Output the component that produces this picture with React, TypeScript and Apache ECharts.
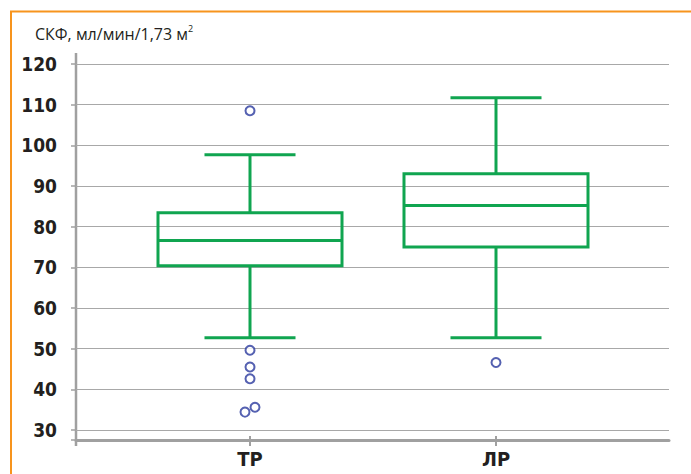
import React, { useEffect, useRef } from "react";
import * as echarts from "echarts";

const categories = ["ТР", "ЛР"];
// [lower whisker, Q1, median, Q3, upper whisker]
const boxTR = [52.7, 70.4, 76.6, 83.4, 97.7];
const boxLR = [52.7, 75.0, 85.2, 93.0, 111.7];
const outliersTR = [108.5, 49.6, 45.5, 42.6, 35.6, 34.4];
const outliersLR = [46.6];
const yMin = 30;
const yMax = 120;
const yStep = 10;
const titleMain = "СКФ, мл/мин/1,73 м";
const titleSup = "2";

// horizontal jitter (px) applied to overlapping outlier markers
const jitterTR = [0, 0, 0, 0, 5, -5];

const GREEN = "#10a550";
const GRAY = "#a0a0a0";
const DARK = "#231f20";
const COND = "'DejaVu Sans Condensed', 'DejaVu Sans', sans-serif";

export default function App() {
  const ref = useRef<HTMLDivElement>(null);
  useEffect(() => {
    if (!ref.current) return;
    const chart = echarts.init(ref.current, null, { renderer: "svg" });
    const boxes = [boxTR, boxLR].map((b, i) => [i, ...b]);
    const scatterData = [
      ...outliersTR.map((v, i) => ({ value: [0, v], symbolOffset: [jitterTR[i], 0] })),
      ...outliersLR.map((v) => ({ value: [1, v] })),
    ];
    chart.setOption({
      animation: false,
      backgroundColor: "#ffffff",
      title: {
        text: `{a|${titleMain}}{b|${titleSup}}`,
        left: 30,
        top: 19,
        textStyle: {
          fontWeight: "normal",
          rich: {
            a: { fontFamily: "Open Sans", fontWeight: "normal", fontSize: 16, color: DARK, lineHeight: 19 },
            b: { fontFamily: "Open Sans", fontWeight: "normal", fontSize: 9, color: DARK, lineHeight: 10, verticalAlign: "top" },
          },
        },
      },
      grid: [
        { left: 76, right: 22, top: 64, bottom: 44 },
        { left: 127, right: 72, top: 64, bottom: 44 },
      ],
      xAxis: [
        {
          gridIndex: 0,
          type: "value",
          min: 0,
          max: 1,
          offset: 10,
          axisLine: { show: true, lineStyle: { color: GRAY, width: 3 } },
          axisTick: { show: false },
          axisLabel: { show: false },
          splitLine: { show: false },
        },
        {
          gridIndex: 1,
          type: "category",
          data: categories,
          offset: 16,
          axisLine: { show: false },
          axisTick: { show: true, inside: true, length: 10, alignWithLabel: true, lineStyle: { color: GRAY, width: 2 } },
          axisLabel: {
            margin: 3,
            fontFamily: COND,
            fontWeight: "bold",
            fontSize: 20,
            color: DARK,
          },
        },
      ],
      yAxis: [
        {
          gridIndex: 0,
          type: "value",
          min: yMin,
          max: yMax,
          interval: yStep,
          axisLine: { show: false },
          axisTick: { show: true, length: 5, lineStyle: { color: GRAY, width: 1.5 } },
          axisLabel: {
            margin: 19,
            fontFamily: COND,
            fontWeight: "bold",
            fontSize: 19,
            color: DARK,
          },
          splitLine: { show: true, lineStyle: { color: "#a8a8a8", width: 1 } },
        },
        {
          gridIndex: 1,
          type: "value",
          min: yMin,
          max: yMax,
          interval: yStep,
          show: false,
          splitLine: { show: false },
        },
      ],
      graphic: [
        {
          type: "polyline",
          shape: { points: [[11, 474], [11, 11.5], [691, 11.5]] },
          style: { stroke: "#f7941d", lineWidth: 2, fill: "none" },
          silent: true,
        },
        {
          type: "line",
          shape: { x1: 76, y1: 53, x2: 76, y2: 446 },
          style: { stroke: GRAY, lineWidth: 2.5 },
          silent: true,
        },
        {
          type: "line",
          shape: { x1: 71, y1: 440, x2: 76, y2: 440 },
          style: { stroke: GRAY, lineWidth: 1.5 },
          silent: true,
        },
      ],
      series: [
        {
          type: "custom",
          xAxisIndex: 1,
          yAxisIndex: 1,
          data: boxes,
          encode: { x: 0, y: [1, 2, 3, 4, 5] },
          renderItem: (params: any, api: any) => {
            const idx = api.value(0);
            const lo = api.coord([idx, api.value(1)]);
            const q1 = api.coord([idx, api.value(2)]);
            const med = api.coord([idx, api.value(3)]);
            const q3 = api.coord([idx, api.value(4)]);
            const hi = api.coord([idx, api.value(5)]);
            const band = api.size([1, 0])[0];
            const half = band * 0.374;
            const cap = band * 0.185;
            const cx = lo[0];
            const style = { stroke: GREEN, lineWidth: 3, fill: "none" };
            return {
              type: "group",
              children: [
                { type: "rect", shape: { x: cx - half, y: q3[1], width: half * 2, height: q1[1] - q3[1] }, style },
                { type: "line", shape: { x1: cx - half, y1: med[1], x2: cx + half, y2: med[1] }, style },
                { type: "line", shape: { x1: cx, y1: q3[1], x2: cx, y2: hi[1] }, style },
                { type: "line", shape: { x1: cx - cap, y1: hi[1], x2: cx + cap, y2: hi[1] }, style },
                { type: "line", shape: { x1: cx, y1: q1[1], x2: cx, y2: lo[1] }, style },
                { type: "line", shape: { x1: cx - cap, y1: lo[1], x2: cx + cap, y2: lo[1] }, style },
              ],
            };
          },
        },
        {
          type: "scatter",
          xAxisIndex: 1,
          yAxisIndex: 1,
          symbol: "emptyCircle",
          symbolSize: 9,
          itemStyle: { color: "#2b3a9e", borderWidth: 1.3 },
          data: scatterData,
          z: 5,
        },
      ],
    });
    return () => chart.dispose();
  }, []);
  return (
    <div
      ref={ref}
      style={{ position: "fixed", left: 0, top: 0, width: 691, height: 474 }}
    />
  );
}
